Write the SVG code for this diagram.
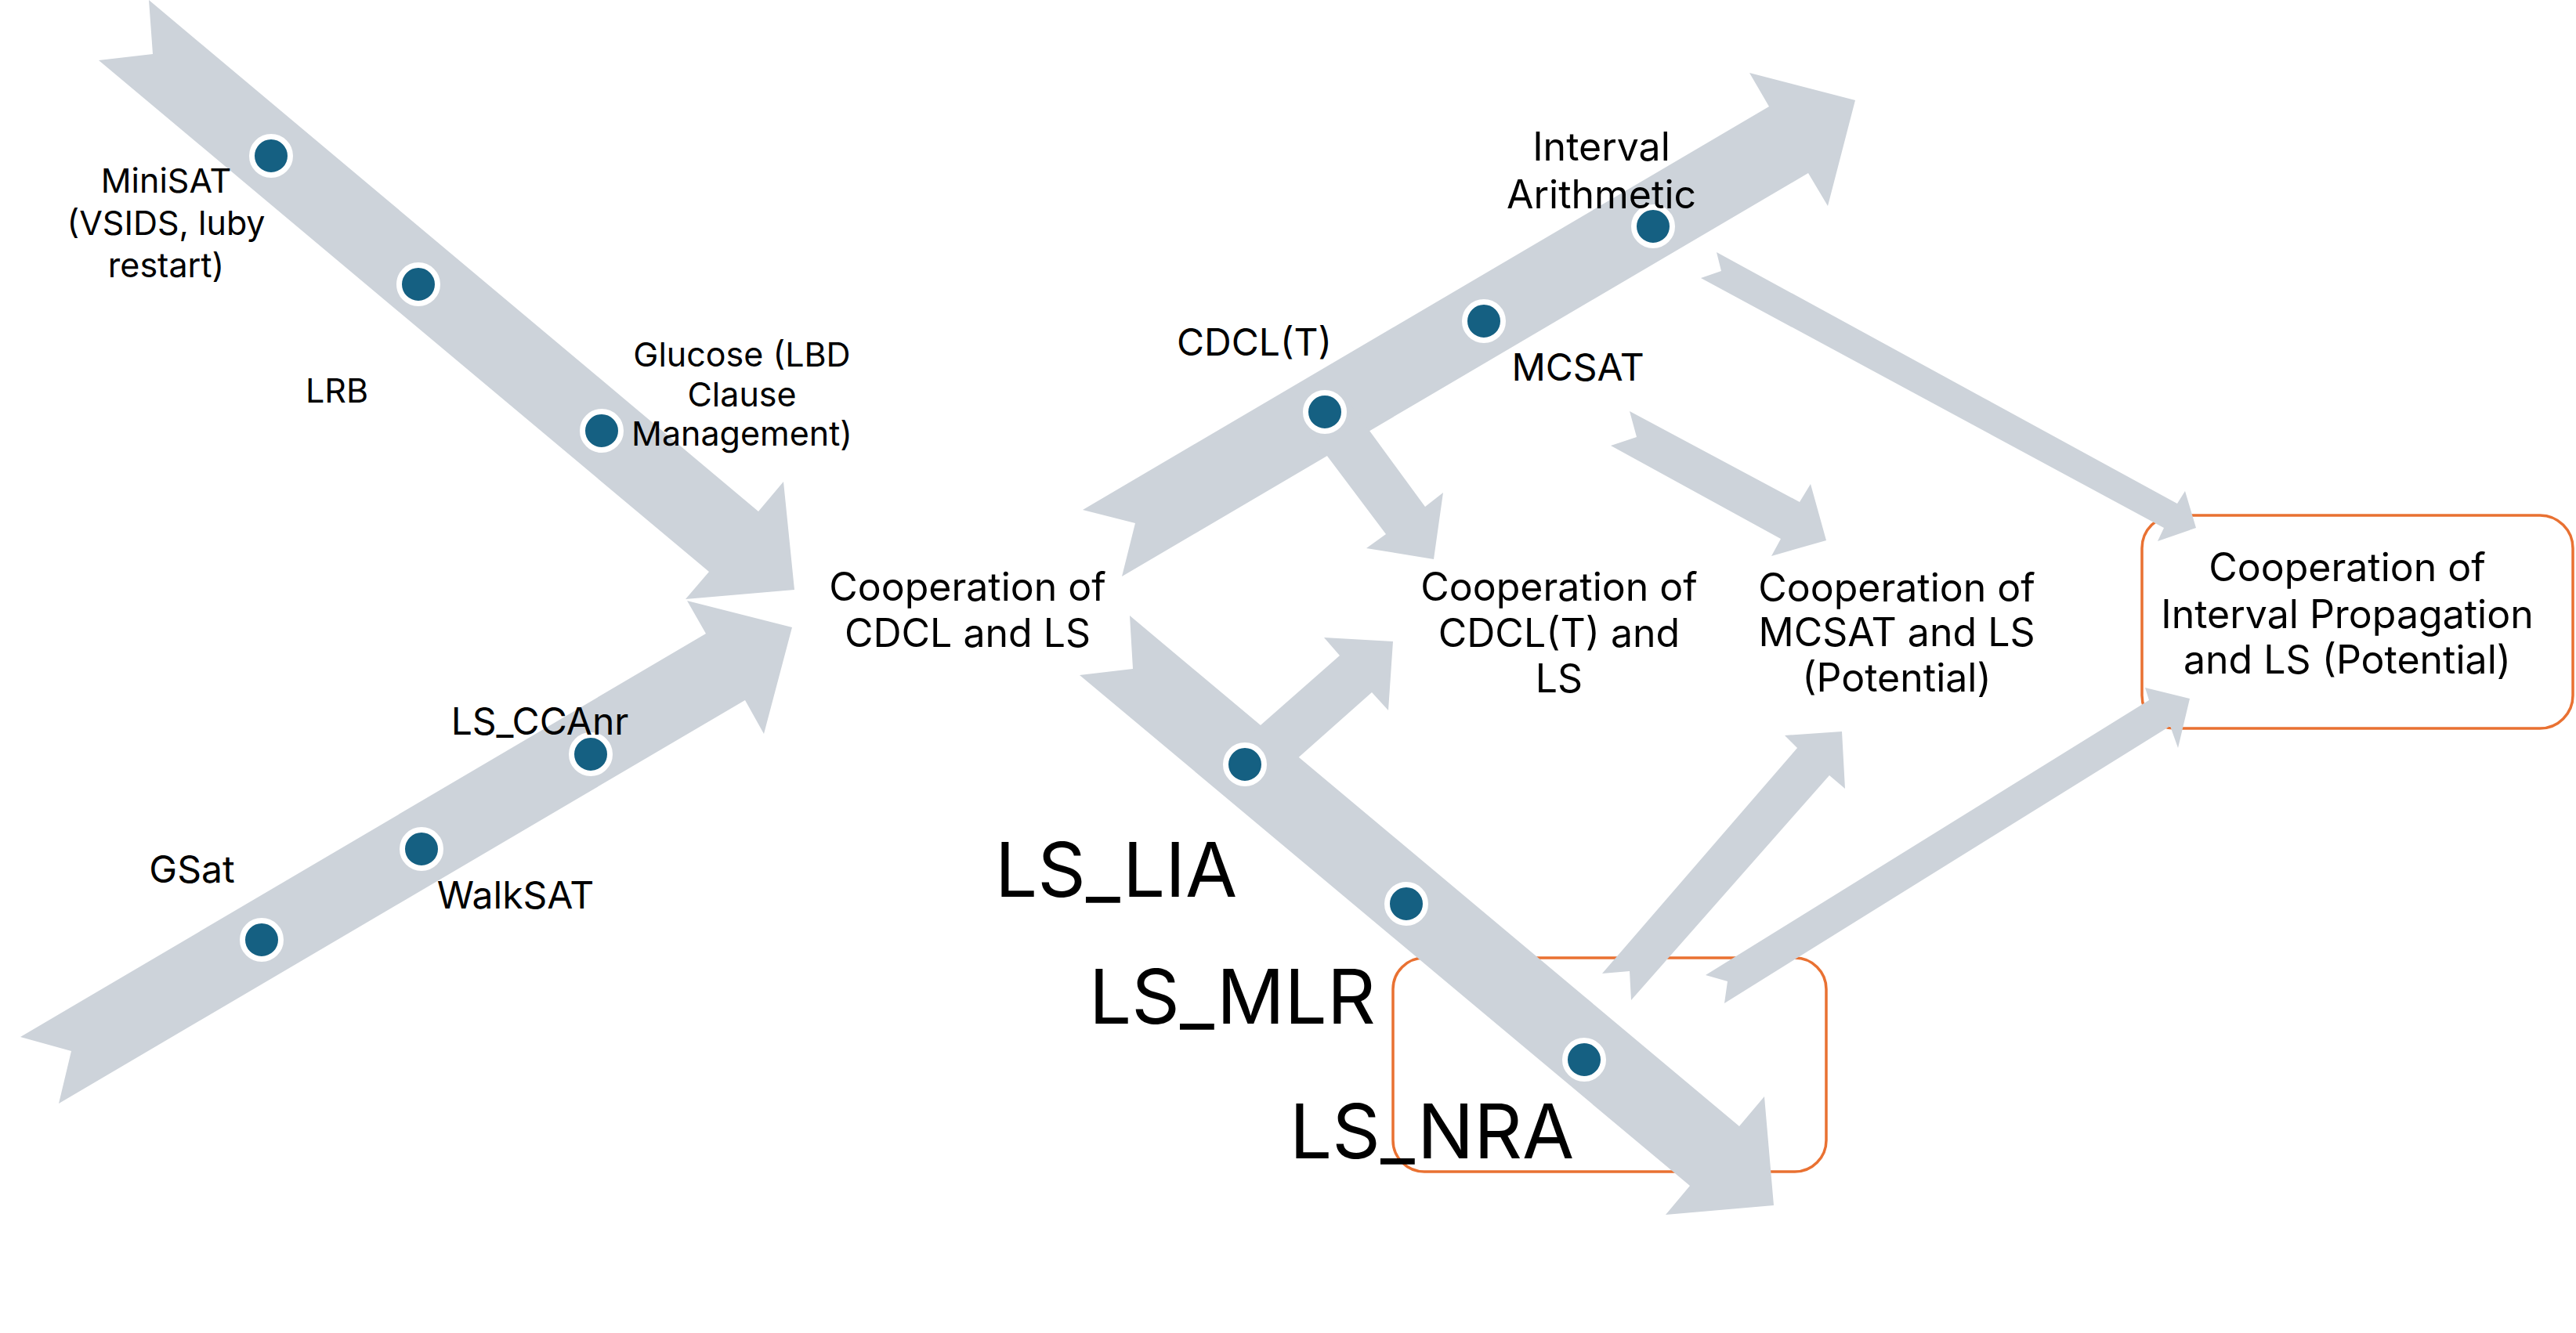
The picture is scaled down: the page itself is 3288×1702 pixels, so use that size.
<svg xmlns="http://www.w3.org/2000/svg" width="3288" height="1702" viewBox="0 0 3288 1702">
<style>
.arr{fill:#CDD3DA;stroke:none}
.dot{fill:#156082;stroke:#FFFFFF;stroke-width:7}
.box{fill:none;stroke:#E97132;stroke-width:3.5}
text{font-family:Inter,"Liberation Sans",Arial,sans-serif;fill:#000000}
.s{font-size:43px;text-anchor:middle}
.m{font-size:48px;text-anchor:middle}
.l{font-size:50px;text-anchor:middle}
.xl{font-size:96px}
</style>
<rect width="3288" height="1702" fill="#FFFFFF"/>
<g id="boxes">
<rect id="box-interval" class="box" x="2734" y="658" width="550" height="272" rx="42"/>
<rect id="box-lsnra" class="box" x="1778" y="1223" width="553" height="273" rx="40"/>
</g>
<g id="connectors">
<polygon id="arrow-cdcl" class="arr" points="190,0 968,653 1000,615 1014,753 875,765 905,730 126,77 195,69"/>
<polygon id="arrow-ls" class="arr" points="26,1324 901,809 877,767 1011,801 975,937 951,894 75,1409 91,1342"/>
<polygon id="arrow-cdclt" class="arr" points="1382,651 2258,136 2233,93 2368,128 2333,263 2308,221 1432,736 1449,668"/>
<polygon id="branch-cdclt-ls" class="arr" points="1657,533 1769,682 1744,700 1830,714 1842,629 1819,647 1713,502"/>
<polygon id="arrow-lsmain" class="arr" points="1442,786 2220,1438 2252,1400 2264,1539 2126,1551 2157,1514 1378,862 1446,854"/>
<polygon id="branch-ls-cdclt" class="arr" points="1568,962 1710,837 1690,814 1778,819 1772,907 1751,884 1617,1003"/>
<polygon id="arrow-interval" class="arr" points="2191,322 2779,643 2789,627 2803,674 2754,691 2762,674 2171,355 2197,346"/>
<polygon id="arrow-mcsat" class="arr" points="2080,525 2297,641 2311,618 2331,690 2261,710 2273,688 2056,569 2089,558"/>
<polygon id="arrow-nra-mcsat" class="arr" points="2045,1243 2294,955 2278,939 2351,934 2355,1007 2335,990 2082,1277 2080,1240"/>
<polygon id="arrow-nra-interval" class="arr" points="2177,1245 2743,894 2738,878 2795,892 2780,955 2770,927 2201,1281 2205,1253"/>
</g>
<g id="dots">
<circle class="dot" cx="346" cy="199" r="24.5"/>
<circle class="dot" cx="534" cy="363" r="24.5"/>
<circle class="dot" cx="768" cy="550" r="24.5"/>
<circle class="dot" cx="334" cy="1200" r="24.5"/>
<circle class="dot" cx="538" cy="1084" r="24.5"/>
<circle class="dot" cx="754" cy="963" r="24.5"/>
<circle class="dot" cx="1691" cy="526" r="24.5"/>
<circle class="dot" cx="1894" cy="410" r="24.5"/>
<circle class="dot" cx="2110" cy="289" r="24.5"/>
<circle class="dot" cx="1589" cy="976" r="24.5"/>
<circle class="dot" cx="1795" cy="1154" r="24.5"/>
<circle class="dot" cx="2022" cy="1353" r="24.5"/>
</g>
<g id="node-minisat"><text class="s" x="212"><tspan x="212" y="246">MiniSAT</tspan><tspan x="212" y="300">(VSIDS, luby</tspan><tspan x="212" y="354">restart)</tspan></text></g>
<g id="node-lrb"><text class="s" x="430" y="514">LRB</text></g>
<g id="node-glucose"><text class="s"><tspan x="947" y="468">Glucose (LBD</tspan><tspan x="947" y="519">Clause</tspan><tspan x="947" y="569">Management)</tspan></text></g>
<g id="node-gsat"><text class="m" x="245" y="1127">GSat</text></g>
<g id="node-walksat"><text class="m" x="658" y="1160">WalkSAT</text></g>
<g id="node-ccanr"><text class="m" x="689" y="938">LS_CCAnr</text></g>
<g id="node-coop-cdcl-ls"><text class="l"><tspan x="1235" y="767">Cooperation of</tspan><tspan x="1235" y="826">CDCL and LS</tspan></text></g>
<g id="node-cdclt"><text class="m" x="1601" y="454">CDCL(T)</text></g>
<g id="node-mcsat"><text class="m" x="2014" y="486">MCSAT</text></g>
<g id="node-interval"><text class="l"><tspan x="2044" y="205">Interval</tspan><tspan x="2044" y="266">Arithmetic</tspan></text></g>
<g id="node-coop-cdclt-ls"><text class="l"><tspan x="1990" y="767">Cooperation of</tspan><tspan x="1990" y="826">CDCL(T) and</tspan><tspan x="1990" y="884">LS</tspan></text></g>
<g id="node-coop-mcsat-ls"><text class="l"><tspan x="2421" y="768">Cooperation of</tspan><tspan x="2421" y="825">MCSAT and LS</tspan><tspan x="2421" y="883">(Potential)</tspan></text></g>
<g id="node-coop-interval-ls"><text class="l"><tspan x="2996" y="742">Cooperation of</tspan><tspan x="2996" y="802">Interval Propagation</tspan><tspan x="2996" y="860">and LS (Potential)</tspan></text></g>
<g id="node-lslia"><text class="xl" x="1270" y="1145">LS_LIA</text></g>
<g id="node-lsmlr"><text class="xl" x="1390" y="1307">LS_MLR</text></g>
<g id="node-lsnra"><text class="xl" x="1646" y="1479">LS_NRA</text></g>
</svg>
